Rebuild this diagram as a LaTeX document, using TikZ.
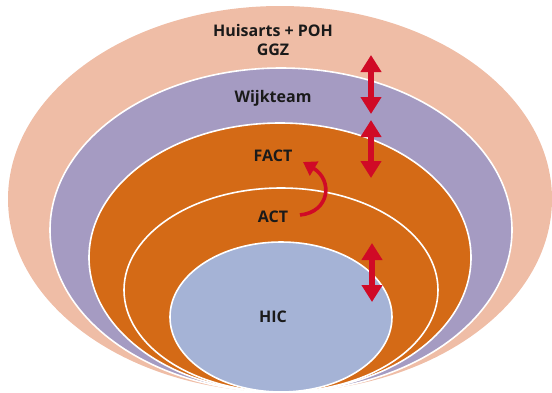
\documentclass[tikz,border=0pt]{standalone}
\usepackage{fontspec}
\setmainfont{Open Sans}
\usetikzlibrary{shapes.geometric,arrows.meta}
\definecolor{peach}{HTML}{EFBDA6}
\definecolor{lilac}{HTML}{A59BC2}
\definecolor{orng}{HTML}{D46A16}
\definecolor{hicblue}{HTML}{A5B3D6}
\definecolor{arrowred}{HTML}{D00A26}
\definecolor{txt}{HTML}{1A1A1A}
\begin{document}
\begin{tikzpicture}[x=1pt,y=-1pt,
  ring/.style={ellipse, inner sep=0pt, outer sep=0pt},
  edged/.style={draw=white, line width=1.6pt},
  lbl/.style={font=\fontsize{16}{19}\selectfont\bfseries, text=txt, align=center, inner sep=0pt},
  dbl/.style={arrowred, line width=6.5pt, {Triangle[width=20pt,length=17pt]}-{Triangle[width=20pt,length=17pt]}},
  curv/.style={arrowred, line width=3.6pt, -{Triangle[width=16pt,length=13pt]}}]
\useasboundingbox (0,0) rectangle (552,392);
\clip (0,0) rectangle (552,392);
\node[ring, fill=peach, minimum width=544pt, minimum height=386pt] (ggz) at (280,199) {};
\node[ring, fill=lilac, edged, minimum width=462pt, minimum height=324pt] (wijk) at (281,230) {};
\node[ring, fill=orng, edged, minimum width=382pt, minimum height=269pt] (fact) at (280,257.5) {};
\node[ring, fill=orng, edged, minimum width=314pt, minimum height=204pt] (act) at (281,290) {};
\node[ring, fill=hicblue, edged, minimum width=222pt, minimum height=150pt] (hic) at (281,317) {};
\node[lbl] (t1) at (273,40) {Huisarts + POH\\GGZ};
\node[lbl] (t2) at (273,98) {Wijkteam};
\node[lbl] (t3) at (273,156) {FACT};
\node[lbl] (t4) at (273,217) {ACT};
\node[lbl] (t5) at (273,317) {HIC};
\coordinate (a1t) at (371,55);
\coordinate (a1b) at (371,114);
\coordinate (a2t) at (371,120);
\coordinate (a2b) at (371,178);
\coordinate (a3t) at (372,243);
\coordinate (a3b) at (372,302);
\coordinate (cs) at (300,215);
\coordinate (ce) at (303,162);
\draw[dbl] (a1t) -- (a1b);
\draw[dbl] (a2t) -- (a2b);
\draw[dbl] (a3t) -- (a3b);
\draw[curv] (cs) .. controls (330,212) and (333,180) .. (ce);
\end{tikzpicture}
\end{document}
